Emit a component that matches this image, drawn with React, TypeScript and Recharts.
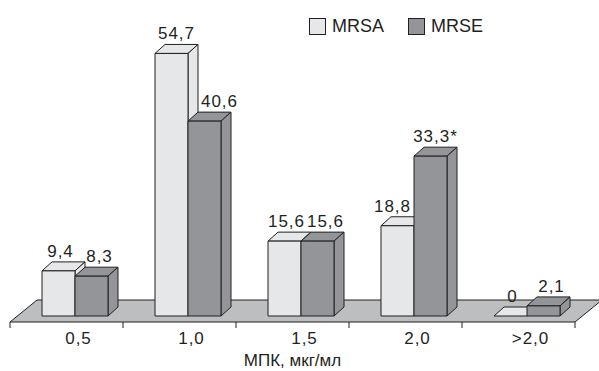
import React from 'react';
import { BarChart, Bar, XAxis, YAxis, Legend, LabelList, ReferenceArea } from 'recharts';

const categories = ['0,5', '1,0', '1,5', '2,0', '>2,0'];
const mrsaValues = [9.4, 54.7, 15.6, 18.8, 0];
const mrseValues = [8.3, 40.6, 15.6, 33.3, 2.1];
const mrseMarks = ['', '', '', '*', ''];
const seriesNames = ['MRSA', 'MRSE'];
const axisTitle = 'МПК, мкг/мл';

const data = categories.map((c, i) => ({
  cat: c,
  mrsa: mrsaValues[i],
  mrse: mrseValues[i],
}));

const DX = 10;
const DY = 9;
const STROKE = '#231f20';
const FONT = '"Liberation Sans", Arial, Helvetica, sans-serif';
const MRSA_FILL = '#e6e7e8';
const MRSE_FILL = '#939598';
const FLOOR_FILL = '#bcbec0';

const Box3D = (props: any) => {
  const { x, y, width, height, fill } = props;
  if (x == null || y == null) return null;
  const x0 = x;
  const x1 = x + width;
  const yT = y;
  const yB = y + height;
  return (
    <g stroke={STROKE} strokeWidth={1} strokeLinejoin="round">
      <path d={`M${x0},${yT} L${x0 + DX},${yT - DY} L${x1 + DX},${yT - DY} L${x1},${yT} Z`} fill={fill} />
      <path d={`M${x1},${yT} L${x1 + DX},${yT - DY} L${x1 + DX},${yB - DY} L${x1},${yB} Z`} fill={fill} />
      <rect x={x0} y={yT} width={width} height={height} fill={fill} />
    </g>
  );
};

const Floor = (props: any) => {
  const { x, y, width, height } = props;
  const yb = y + height;
  const front = yb + 6;
  const back = yb - 16;
  const fx = x - 8;
  const bx = x + 19;
  const n = categories.length;
  const ticks = [];
  for (let i = 0; i <= n; i++) {
    const tx = fx + (width * i) / n;
    ticks.push(<line key={i} x1={tx} x2={tx} y1={front} y2={front + 6} stroke={STROKE} strokeWidth={1} />);
  }
  return (
    <g>
      <path
        d={`M${fx},${front} L${bx},${back} L${bx + width},${back} L${fx + width},${front} Z`}
        fill={FLOOR_FILL}
        stroke={STROKE}
        strokeWidth={1}
      />
      {ticks}
    </g>
  );
};

// Labels sit over the top face; nudged away from the neighbour bar when needed.
const makeValueLabel = (own: number[], other: number[], dir: number, marks?: string[]) => (props: any) => {
  const { x, y, width, value, index } = props;
  const text = String(value).replace('.', ',') + (marks ? marks[index] : '');
  const diff = other[index] - own[index];
  let shift = 0;
  if (Math.abs(diff) <= 3) shift = 3 * dir;
  else if (diff > 3) shift = 10 * dir;
  return (
    <text
      x={x + width / 2 + DX / 2 + shift}
      y={y - DY - 5}
      textAnchor="middle"
      fontFamily={FONT}
      fontSize={17}
      letterSpacing={1}
      fill={STROKE}
    >
      {text}
    </text>
  );
};

const CatTick = (props: any) => {
  const { x, y, payload } = props;
  return (
    <text
      x={x + 4}
      y={y + 22}
      textAnchor="middle"
      dominantBaseline="central"
      fontFamily={FONT}
      fontSize={17}
      letterSpacing={1}
      fill={STROKE}
    >
      {payload.value}
    </text>
  );
};

const LegendContent = (props: any) => {
  const { payload } = props;
  return (
    <div style={{ display: 'flex', alignItems: 'center', fontFamily: FONT, fontSize: 18, color: STROKE, lineHeight: '18px' }}>
      {(payload || []).map((p: any, i: number) => (
        <div key={i} style={{ display: 'flex', alignItems: 'center', marginRight: 24 }}>
          <span
            style={{
              width: 15,
              height: 15,
              background: p.color,
              border: `1px solid ${STROKE}`,
              marginRight: 6,
              display: 'inline-block',
            }}
          />
          <span>{p.value}</span>
        </div>
      ))}
    </div>
  );
};

export default function App() {
  return (
    <div style={{ position: 'absolute', left: 0, top: 0, width: 599, height: 371, background: '#fff' }}>
      <BarChart
        width={599}
        height={371}
        data={data}
        margin={{ top: 28, right: 16, bottom: 0, left: 18 }}
        barGap={0}
        barSize={33}
      >
        <XAxis
          dataKey="cat"
          height={55}
          axisLine={false}
          tickLine={false}
          tickSize={0}
          tickMargin={0}
          tick={<CatTick />}
          interval={0}
          label={{
            value: axisTitle,
            content: (lp: any) => {
              const vb = lp.viewBox || {};
              return (
                <text
                  x={vb.x + vb.width / 2 - 8}
                  y={vb.y + vb.height - 5}
                  textAnchor="middle"
                  fontFamily={FONT}
                  fontSize={17}
                  fill={STROKE}
                >
                  {axisTitle}
                </text>
              );
            },
          }}
        />
        <YAxis hide domain={[0, 60]} />
        <ReferenceArea x1={categories[0]} x2={categories[categories.length - 1]} shape={<Floor />} />
        <Legend
          layout="horizontal"
          verticalAlign="middle"
          align="center"
          wrapperStyle={{ top: 17, left: 309, width: 'auto', height: 'auto' }}
          content={<LegendContent />}
        />
        <Bar dataKey="mrsa" name={seriesNames[0]} fill={MRSA_FILL} shape={<Box3D />} isAnimationActive={false}>
          <LabelList dataKey="mrsa" content={makeValueLabel(mrsaValues, mrseValues, -1)} />
        </Bar>
        <Bar dataKey="mrse" name={seriesNames[1]} fill={MRSE_FILL} shape={<Box3D />} isAnimationActive={false}>
          <LabelList dataKey="mrse" content={makeValueLabel(mrseValues, mrsaValues, 1, mrseMarks)} />
        </Bar>
      </BarChart>
    </div>
  );
}
